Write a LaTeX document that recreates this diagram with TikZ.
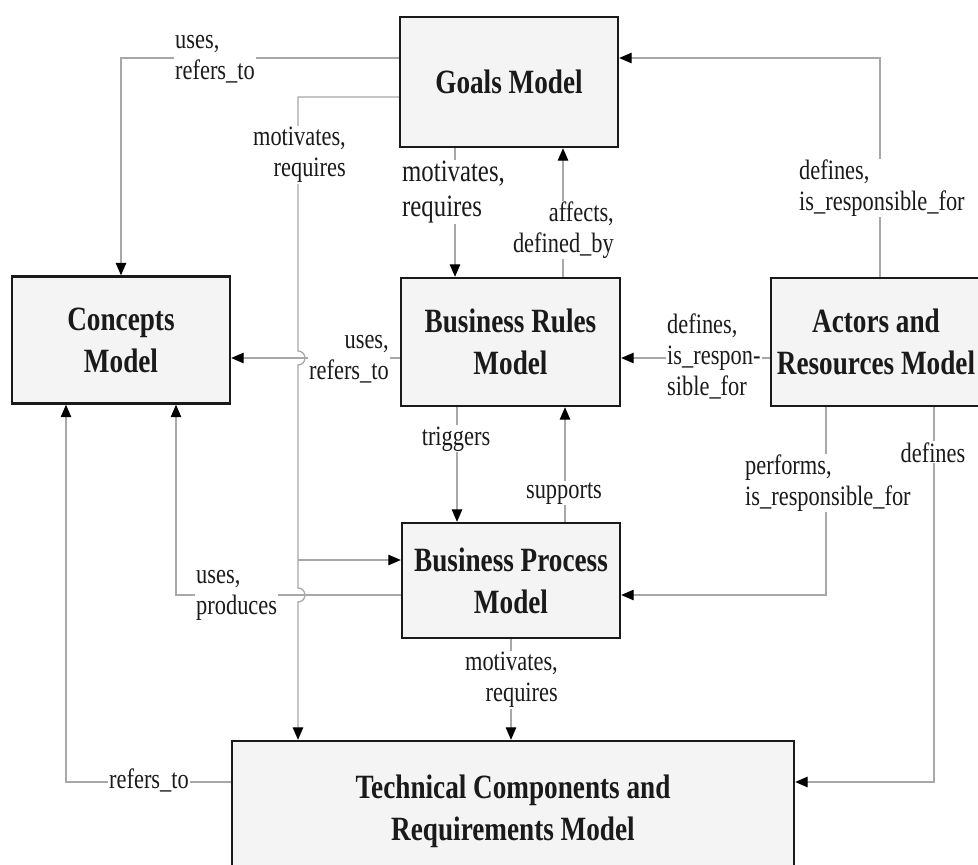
\documentclass[tikz,border=0pt]{standalone}
\usepackage{fontspec}
\setmainfont{Liberation Serif}[FakeStretch=0.8]
\usetikzlibrary{arrows.meta,calc}
\definecolor{boxfill}{HTML}{F4F4F4}
\definecolor{linegray}{HTML}{A8A8A8}
\definecolor{ink}{HTML}{1A1A1A}
\tikzset{
  mbox/.style={draw=ink, line width=2.4pt, fill=boxfill, align=center,
    font=\fontsize{34}{42}\selectfont\bfseries, text=ink, inner sep=0pt},
  conn/.style={draw=linegray, line width=1.3pt,
    -{Triangle[length=12.5pt,width=10.5pt,color=black]}},
  lbl/.style={fill=white, inner sep=1pt, text=ink, font=\fontsize{28}{31}\selectfont},
  biglbl/.style={lbl, font=\fontsize{31}{35}\selectfont},
}
\begin{document}
\begin{tikzpicture}[x=1pt,y=-1pt]
\useasboundingbox (0,0) rectangle (978,865);

% boxes
\node[mbox, minimum width=218pt, minimum height=130pt] (goals) at (509,82) {Goals Model};
\node[mbox, minimum width=218pt, minimum height=127pt] (concepts) at (121,340) {Concepts\\Model};
\node[mbox, minimum width=219pt, minimum height=128pt] (br) at (510.5,342) {Business Rules\\Model};
\node[mbox, minimum width=210pt, minimum height=128pt] (actors) at (876,342) {Actors and\\Resources Model};
\node[mbox, minimum width=218pt, minimum height=115pt] (bp) at (511,580.5) {Business Process\\Model};
\node[mbox, minimum width=562pt, minimum height=140pt] (tech) at (513,811) {Technical Components and\\Requirements Model};

% connectors
\draw[conn] (goals.west |- 0,58) -| (concepts.north);
\coordinate (hop) at (298,97);
\draw[conn] (goals.west |- hop) -- (hop) -- (298,351)
  arc[start angle=90, end angle=-90, radius=7pt] -- (298,588)
  arc[start angle=90, end angle=-90, radius=7pt] -- (hop |- tech.north);
\coordinate (jct) at (298,560);
\draw[conn] (jct) -- (jct -| bp.west);
\draw[conn] (goals.south -| 455,0) -- (br.north -| 455,0);
\draw[conn] (br.north -| 563,0) -- (goals.south -| 563,0);
\draw[conn] (br.west |- 0,358) -- (concepts.east |- 0,358);
\draw[conn] (actors.west |- 0,358) -- (br.east |- 0,358);
\draw[conn] (actors.north -| 880,0) |- (goals.east |- 0,58);
\draw[conn] (br.south -| 457,0) -- (bp.north -| 457,0);
\draw[conn] (bp.north -| 565,0) -- (br.south -| 565,0);
\draw[conn] (bp.west |- 0,595) -| (concepts.south -| 176,0);
\draw[conn] (actors.south -| 826,0) |- (bp.east |- 0,595);
\draw[conn] (actors.south -| 934,0) |- (tech.east |- 0,782);
\draw[conn] (bp.south -| 511,0) -- (tech.north -| 511,0);
\draw[conn] (tech.west |- 0,782) -| (concepts.south -| 66,0);

% labels
\node[lbl, align=left, anchor=west] (l1) at (174,59) {uses,\\refers\_to};
\node[lbl, align=right, anchor=east] (l2) at (347,155) {motivates,\\requires};
\node[biglbl, align=left, anchor=west] (l3) at (401,192) {motivates,\\requires};
\node[lbl, align=right, anchor=east] (l4) at (615,230) {affects,\\defined\_by};
\node[lbl, align=right, anchor=east] (l5) at (390,359) {uses,\\refers\_to};
\node[lbl, align=left, anchor=west] (l6) at (666,356) {defines,\\is\_respon-\\sible\_for};
\node[lbl, align=left, anchor=west] (l7) at (798,188) {defines,\\is\_responsible\_for};
\node[lbl, anchor=base] (l8) at (456,445) {triggers};
\node[lbl, anchor=base] (l9) at (564,498) {supports};
\node[lbl, align=left, anchor=west] (l10) at (195,595) {uses,\\produces};
\node[lbl, align=left, anchor=west] (l11) at (744,483) {performs,\\is\_responsible\_for};
\node[lbl, anchor=base] (l12) at (933,462) {defines};
\node[lbl, align=right, anchor=east] (l13) at (559,680) {motivates,\\requires};
\node[lbl, anchor=base] (l14) at (149,788) {refers\_to};
\end{tikzpicture}
\end{document}
